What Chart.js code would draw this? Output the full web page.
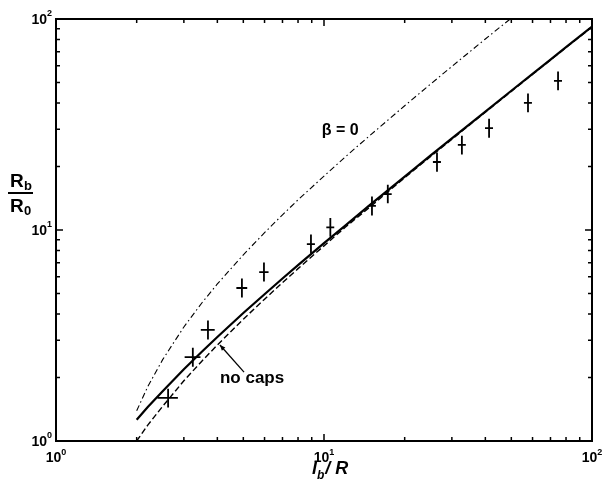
<!DOCTYPE html>
<html>
<head>
<meta charset="utf-8">
<script src="https://cdn.jsdelivr.net/npm/chart.js@4.4.0/dist/chart.umd.min.js"></script>
<style>
  html, body { margin: 0; padding: 0; background: #fff; }
  #wrap { width: 602px; height: 493px; }
</style>
</head>
<body>
<div id="wrap"><canvas id="c" width="602" height="493"></canvas></div>
<script>
/* ── data ── */
var curveX   = [2, 2.2, 2.5, 3, 3.5, 4, 5, 6, 7, 8, 10, 12, 15, 20, 25, 30, 40, 50, 60, 70, 80, 100];
var capsY    = [1.26, 1.45, 1.72, 2.19, 2.65, 3.11, 4.04, 4.96, 5.89, 6.82, 8.67, 10.5, 13.3, 17.9, 22.6, 27.2, 36.4, 45.7, 55.0, 64.2, 73.5, 92.0];
var noCapsY  = [1.00, 1.19, 1.46, 1.93, 2.39, 2.85, 3.78, 4.70, 5.63, 6.56, 8.41, 10.3, 13.0, 17.7, 22.3, 26.9, 36.2, 45.4, 54.7, 63.9, 73.2, 91.7];
var betaX    = [2, 2.2, 2.5, 3, 3.5, 4, 5, 6, 7, 8, 10, 12, 15, 20, 25, 30, 40, 50];
var betaY    = [1.39, 1.81, 2.43, 3.47, 4.51, 5.55, 7.63, 9.71, 11.8, 13.9, 18.0, 22.2, 28.4, 38.8, 49.2, 59.6, 80.4, 101];

var expX     = [2.62, 3.24, 3.69, 4.94, 5.97, 8.94, 10.56, 15.1, 17.3, 26.4, 32.7, 41.3, 57.7, 74.7];
var expY     = [1.60, 2.50, 3.36, 5.31, 6.32, 8.58, 10.3, 13.0, 14.8, 21.0, 25.3, 30.4, 40.0, 50.9];
var expXErr  = [0.23, 0.22, 0.22, 0.23, 0.24, 0.31, 0.36, 0.52, 0.59, 0.91, 1.12, 1.42, 1.98, 2.57];
var expYLo   = [1.44, 2.25, 3.03, 4.79, 5.70, 7.74, 9.3, 11.7, 13.4, 18.9, 22.8, 27.4, 36.1, 45.9];
var expYHi   = [1.77, 2.77, 3.72, 5.89, 7.01, 9.52, 11.4, 14.4, 16.4, 23.3, 28.0, 33.7, 44.4, 56.4];

var decades  = [1, 10, 100];
var decadeExp = ["0", "1", "2"];
var minorMult = [2, 3, 4, 5, 6, 7, 8, 9];

function pts(xs, ys) {
  return xs.map(function (x, i) { return { x: x, y: ys[i] }; });
}

var FONT = "Liberation Sans, Arial, Helvetica, sans-serif";

/* ── frame, inward ticks, labels, error bars ── */
var decor = {
  id: "decor",
  afterDatasetsDraw: function (chart) {
    var ctx = chart.ctx, a = chart.chartArea;
    var xs = chart.scales.x, ys = chart.scales.y;
    ctx.save();
    ctx.strokeStyle = "#000";
    ctx.fillStyle = "#000";

    /* error crosses */
    ctx.lineWidth = 1.8;
    for (var i = 0; i < expX.length; i++) {
      var px = xs.getPixelForValue(expX[i]);
      var py = ys.getPixelForValue(expY[i]);
      ctx.beginPath();
      ctx.moveTo(xs.getPixelForValue(expX[i] - expXErr[i]), py);
      ctx.lineTo(xs.getPixelForValue(expX[i] + expXErr[i]), py);
      ctx.moveTo(px, ys.getPixelForValue(expYLo[i]));
      ctx.lineTo(px, ys.getPixelForValue(expYHi[i]));
      ctx.stroke();
    }

    /* box */
    ctx.lineWidth = 2;
    ctx.strokeRect(a.left, a.top, a.right - a.left, a.bottom - a.top);

    /* ticks on all four sides, pointing in */
    ctx.lineWidth = 1.5;
    ctx.beginPath();
    decades.forEach(function (d, k) {
      var vals = [{ v: d, len: 7 }];
      if (k < decades.length - 1) {
        minorMult.forEach(function (m) { vals.push({ v: d * m, len: 4 }); });
      }
      vals.forEach(function (t) {
        var x = xs.getPixelForValue(t.v);
        var y = ys.getPixelForValue(t.v);
        ctx.moveTo(x, a.bottom); ctx.lineTo(x, a.bottom - t.len);
        ctx.moveTo(x, a.top); ctx.lineTo(x, a.top + t.len);
        ctx.moveTo(a.left, y); ctx.lineTo(a.left + t.len, y);
        ctx.moveTo(a.right, y); ctx.lineTo(a.right - t.len, y);
      });
    });
    ctx.stroke();

    /* tick labels 10^n */
    ctx.textBaseline = "alphabetic";
    decades.forEach(function (d, k) {
      var big = "bold 14px " + FONT, sup = "bold 9px " + FONT;
      ctx.font = big; var w1 = ctx.measureText("10").width;
      ctx.font = sup; var w2 = ctx.measureText(decadeExp[k]).width;
      /* x axis */
      var x = xs.getPixelForValue(d) - (w1 + w2) / 2;
      ctx.font = big; ctx.textAlign = "left";
      ctx.fillText("10", x, 462);
      ctx.font = sup; ctx.fillText(decadeExp[k], x + w1, 455);
      /* y axis */
      var y = ys.getPixelForValue(d);
      var xr = a.left - 4;
      ctx.font = sup; ctx.fillText(decadeExp[k], xr - w2, y - 3);
      ctx.font = big; ctx.fillText("10", xr - w2 - w1, y + 5);
    });

    /* x title: l_b / R */
    ctx.font = "italic bold 18px " + FONT;
    ctx.textAlign = "left";
    var tx = 312;
    ctx.fillText("l", tx, 474);
    tx += ctx.measureText("l").width;
    ctx.font = "italic bold 12px " + FONT;
    ctx.fillText("b", tx, 479);
    tx += ctx.measureText("b").width + 1;
    ctx.font = "italic bold 18px " + FONT;
    ctx.fillText("/ R", tx, 474);

    /* y title: R_b over R_0 */
    ctx.font = "bold 19px " + FONT;
    ctx.fillText("R", 10, 187);
    ctx.fillText("R", 10, 212);
    ctx.font = "bold 13px " + FONT;
    ctx.fillText("b", 24, 190);
    ctx.fillText("0", 24, 215);
    ctx.lineWidth = 2;
    ctx.beginPath(); ctx.moveTo(8, 193); ctx.lineTo(33, 193); ctx.stroke();

    /* annotations placed in data space */
    ctx.font = "bold 16px " + FONT;
    ctx.textAlign = "center";
    ctx.fillText("\u03b2 = 0", xs.getPixelForValue(11.5), ys.getPixelForValue(30.1) + 6);
    ctx.font = "bold 17px " + FONT;
    ctx.fillText("no caps", xs.getPixelForValue(5.39), ys.getPixelForValue(1.97) + 4);

    var x0 = xs.getPixelForValue(5.03), y0 = ys.getPixelForValue(2.12);
    var x1 = xs.getPixelForValue(4.09), y1 = ys.getPixelForValue(2.85);
    ctx.lineWidth = 1.3;
    ctx.beginPath(); ctx.moveTo(x0, y0); ctx.lineTo(x1, y1); ctx.stroke();
    var ang = Math.atan2(y1 - y0, x1 - x0);
    ctx.beginPath();
    ctx.moveTo(x1, y1);
    ctx.lineTo(x1 - 6 * Math.cos(ang - 0.4), y1 - 6 * Math.sin(ang - 0.4));
    ctx.lineTo(x1 - 6 * Math.cos(ang + 0.4), y1 - 6 * Math.sin(ang + 0.4));
    ctx.closePath(); ctx.fill();

    ctx.restore();
  }
};

new Chart(document.getElementById("c").getContext("2d"), {
  type: "scatter",
  data: {
    datasets: [
      { label: "caps", data: pts(curveX, capsY), showLine: true, borderColor: "#000", borderWidth: 2.2, pointRadius: 0 },
      { label: "no caps", data: pts(curveX, noCapsY), showLine: true, borderColor: "#000", borderWidth: 1.4, borderDash: [6, 3], pointRadius: 0 },
      { label: "beta = 0", data: pts(betaX, betaY), showLine: true, borderColor: "#000", borderWidth: 1.1, borderDash: [6, 3, 1.5, 3], pointRadius: 0 }
    ]
  },
  options: {
    responsive: false,
    animation: false,
    devicePixelRatio: 1,
    layout: { padding: { left: 56, right: 10, top: 19, bottom: 52 } },
    plugins: { legend: { display: false }, tooltip: { enabled: false } },
    scales: {
      x: { type: "logarithmic", min: 1, max: 100, display: false },
      y: { type: "logarithmic", min: 1, max: 100, display: false }
    }
  },
  plugins: [decor]
});
</script>
</body>
</html>
